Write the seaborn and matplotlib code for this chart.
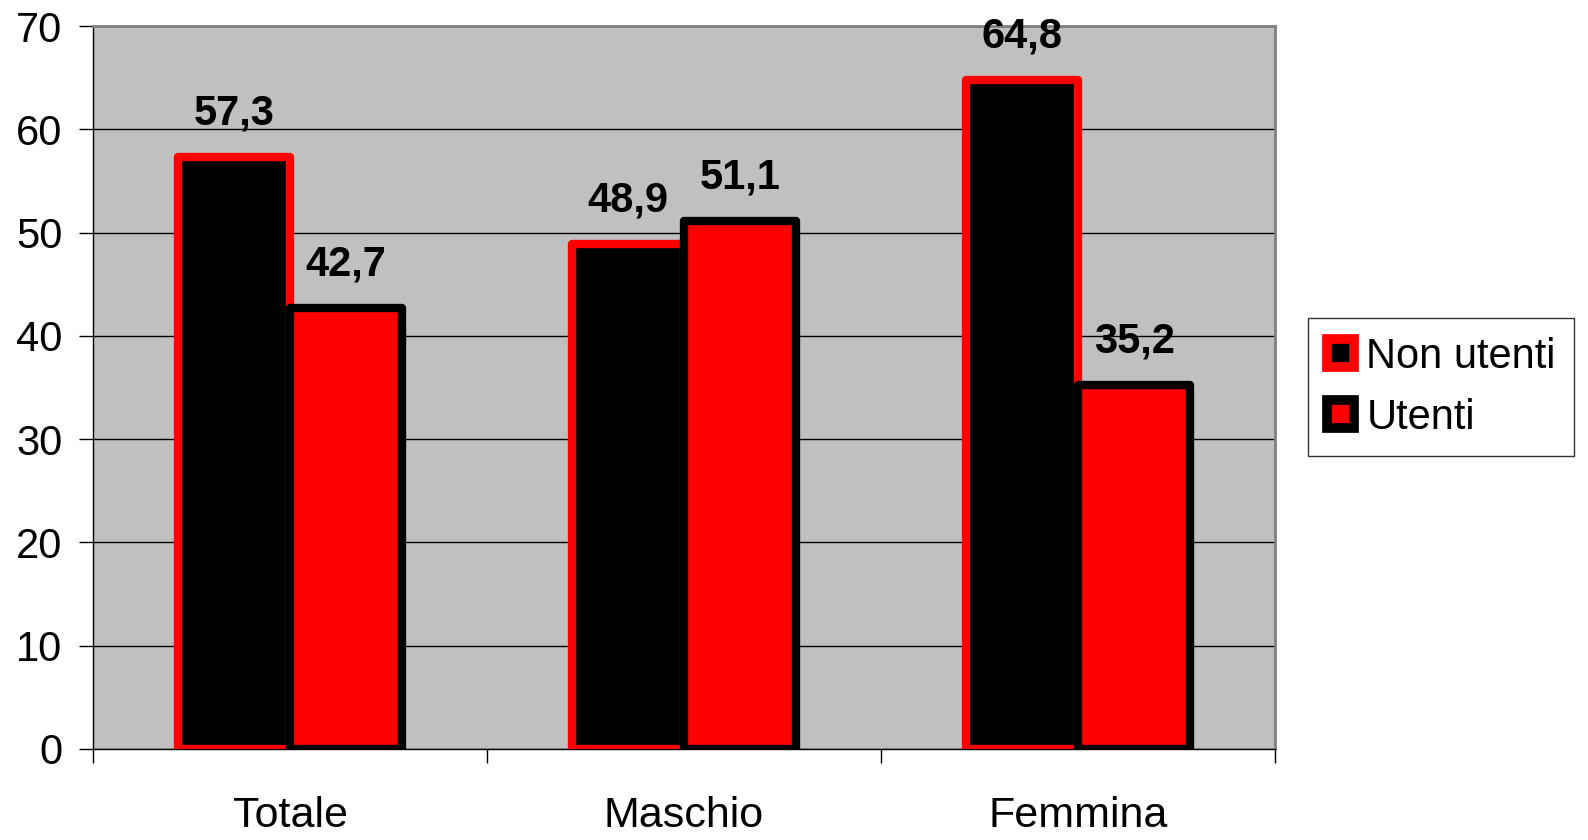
import matplotlib
matplotlib.use("Agg")
import matplotlib.pyplot as plt
import seaborn as sns
import pandas as pd
from matplotlib.patches import Patch

categories = ["Totale", "Maschio", "Femmina"]
series = ["Non utenti", "Utenti"]
non_utenti = [57.3, 48.9, 64.8]
utenti = [42.7, 51.1, 35.2]
yticks = [0, 10, 20, 30, 40, 50, 60, 70]

df = pd.DataFrame({
    "cat": categories * 2,
    "serie": [series[0]] * 3 + [series[1]] * 3,
    "val": non_utenti + utenti,
})

sns.set_theme(style="white")
plt.rcParams['font.family'] = ['Liberation Sans', 'DejaVu Sans']
plt.rcParams['text.color'] = 'black'
plt.rcParams['xtick.color'] = 'black'
plt.rcParams['ytick.color'] = 'black'
plt.rcParams['xtick.labelcolor'] = 'black'
plt.rcParams['ytick.labelcolor'] = 'black'

fig = plt.figure(figsize=(15.88, 8.4), dpi=100)
ax = fig.add_axes([93/1588, 1-749/840, (1275-93)/1588, (749-26)/840])
ax.set_facecolor("#C0C0C0")

sns.barplot(data=df, x="cat", y="val", hue="serie", order=categories,
            hue_order=series, palette={"Non utenti": "black", "Utenti": "#FF0000"},
            width=0.57, ax=ax, legend=False, saturation=1)

edge = {0: "#FF0000", 1: "black"}
for i, cont in enumerate(ax.containers):
    for p in cont:
        p.set_edgecolor(edge[i])
        p.set_linewidth(6)
        p.set_joinstyle("round")
        p.set_zorder(3)
    ax.bar_label(cont, labels=[f"{v:.1f}".replace(".", ",") for v in cont.datavalues],
                 padding=17, fontsize=30, fontweight="bold", color="black")

ax.set_ylim(0, 70)
ax.set_xlim(-0.5, 2.5)
ax.set_yticks(yticks)
ax.set_yticklabels([str(t) for t in yticks], fontsize=30)
ax.set_xticks(range(3))
ax.set_xticklabels(categories, fontsize=31)
ax.set_xticks([-0.5, 0.5, 1.5, 2.5], minor=True)
ax.tick_params(axis="x", which="major", length=0, pad=34)
ax.tick_params(axis="x", which="minor", length=10, width=1, color="black", direction="out", bottom=True)
ax.tick_params(axis="y", which="major", length=10, width=1, color="black", direction="out", left=True, pad=12)
ax.set_xlabel("")
ax.set_ylabel("")
ax.yaxis.grid(True, color="black", linewidth=1)
ax.set_axisbelow(True)
for s in ["top", "right"]:
    ax.spines[s].set_color("#808080")
    ax.spines[s].set_linewidth(2)
for s in ["left", "bottom"]:
    ax.spines[s].set_color("black")
    ax.spines[s].set_linewidth(1)

handles = [Patch(facecolor="black", edgecolor="#FF0000", linewidth=7, label=series[0]),
           Patch(facecolor="#FF0000", edgecolor="black", linewidth=7, label=series[1])]
leg = fig.legend(handles=handles, loc="upper left", bbox_to_anchor=(1308/1588, 1-318/840),
                 fontsize=30, frameon=True, fancybox=False, handlelength=0.65, handleheight=0.65,
                 handletextpad=0.3, borderpad=0.45, labelspacing=0.5, borderaxespad=0)
leg.get_frame().set_edgecolor("black")
leg.get_frame().set_linewidth(1)

fig.savefig("out.png", dpi=100, facecolor="white")
